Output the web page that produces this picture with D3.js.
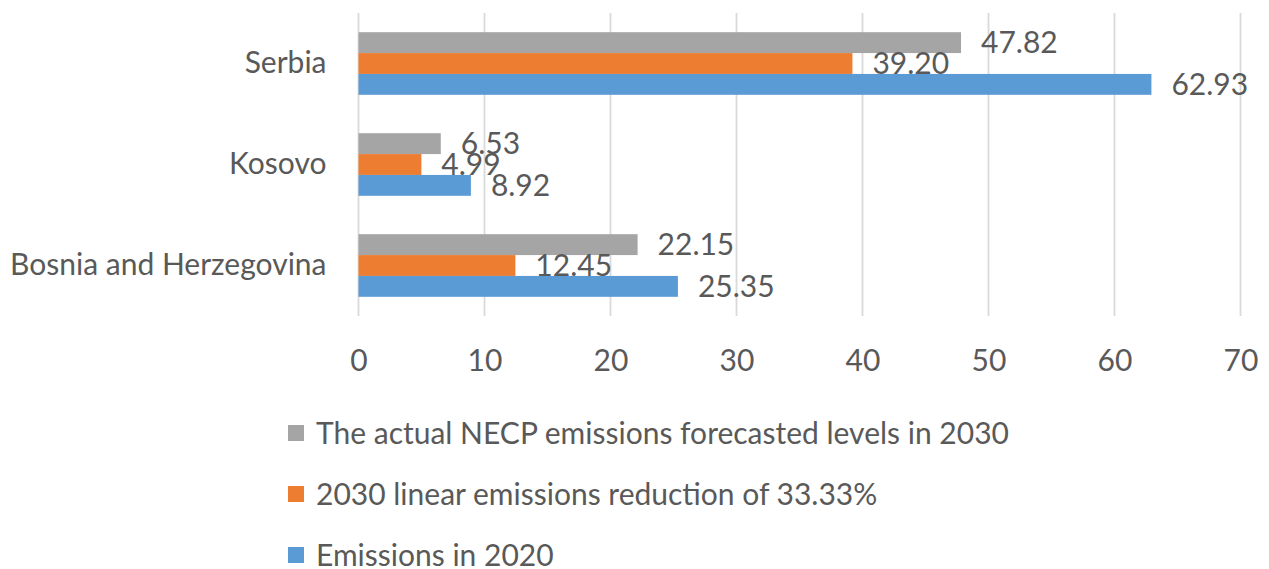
<!DOCTYPE html>
<html>
<head>
<meta charset="utf-8">
<script src="https://cdn.jsdelivr.net/npm/d3@7"></script>
<style>
  html, body { margin: 0; padding: 0; background: #fff; }
  svg { display: block; font-family: Lato, "Open Sans", sans-serif; }
</style>
</head>
<body>
<svg id="chart" width="1269" height="569"></svg>
<script>
// Countries shown on the vertical axis (top to bottom)
const categories = ["Serbia", "Kosovo", "Bosnia and Herzegovina"];

// Series names, in legend order
const seriesNames = [
  "The actual NECP emissions forecasted levels in 2030",
  "2030 linear emissions reduction of 33.33%",
  "Emissions in 2020"
];

// Values per country (same order as categories)
const actualNecp2030 = [47.82, 6.53, 22.15];
const linearReduction2030 = [39.20, 4.99, 12.45];
const emissions2020 = [62.93, 8.92, 25.35];

// X axis ticks
const xTicks = [0, 10, 20, 30, 40, 50, 60, 70];

const seriesValues = [actualNecp2030, linearReduction2030, emissions2020];
const seriesColors = ["#A5A5A5", "#ED7D31", "#5B9BD5"];

const svg = d3.select("#chart");
const textColor = "#595959";
const fontSize = 30;

const plot = { left: 358.5, right: 1240.5, top: 13, bottom: 316 };

const x = d3.scaleLinear()
  .domain([0, 70])
  .range([plot.left, plot.right]);

const y = d3.scaleBand()
  .domain(categories)
  .range([plot.top, plot.bottom])
  .paddingInner(0.38)
  .paddingOuter(0.19);

const ySeries = d3.scaleBand()
  .domain(seriesNames)
  .range([0, y.bandwidth()]);

// Vertical gridlines
svg.append("g")
  .selectAll("line")
  .data(xTicks)
  .join("line")
  .attr("x1", d => x(d))
  .attr("x2", d => x(d))
  .attr("y1", plot.top)
  .attr("y2", plot.bottom)
  .attr("stroke", "#D9D9D9")
  .attr("stroke-width", 1.8);

// X axis tick labels
const xAxis = d3.axisBottom(x)
  .tickValues(xTicks)
  .tickSize(0)
  .tickPadding(0)
  .tickFormat(d3.format("d"));

const xg = svg.append("g")
  .attr("transform", `translate(0, ${plot.bottom})`)
  .call(xAxis);
xg.select(".domain").remove();
xg.selectAll("text")
  .attr("y", 44)
  .attr("dy", "0.35em")
  .attr("fill", textColor)
  .style("font-size", fontSize + "px")
  .style("font-family", "Lato, sans-serif");

// Category labels
const yAxis = d3.axisLeft(y).tickSize(0).tickPadding(32);
const yg = svg.append("g")
  .attr("transform", `translate(${plot.left}, 0)`)
  .call(yAxis);
yg.select(".domain").remove();
yg.selectAll("text")
  .attr("fill", textColor)
  .attr("dy", "0.3em")
  .style("font-size", fontSize + "px")
  .style("font-family", "Lato, sans-serif");

// Bars grouped per country
const rows = [];
categories.forEach((c, ci) => {
  seriesNames.forEach((s, si) => {
    rows.push({ category: c, series: s, value: seriesValues[si][ci], color: seriesColors[si] });
  });
});

svg.append("g")
  .selectAll("rect")
  .data(rows)
  .join("rect")
  .attr("x", x(0))
  .attr("y", d => y(d.category) + ySeries(d.series))
  .attr("width", d => x(d.value) - x(0))
  .attr("height", ySeries.bandwidth())
  .attr("fill", d => d.color);

// Value labels at bar ends
svg.append("g")
  .selectAll("text")
  .data(rows)
  .join("text")
  .attr("x", d => x(d.value) + 20)
  .attr("y", d => y(d.category) + ySeries(d.series) + ySeries.bandwidth() / 2)
  .attr("dy", "0.36em")
  .attr("fill", textColor)
  .style("font-size", fontSize + "px")
  .text(d => d3.format(".2f")(d.value));

// Legend
const legend = svg.append("g")
  .selectAll("g")
  .data(seriesNames)
  .join("g")
  .attr("transform", (d, i) => `translate(288, ${433 + i * 61})`);

legend.append("rect")
  .attr("x", 0)
  .attr("y", -8)
  .attr("width", 16)
  .attr("height", 16)
  .attr("fill", (d, i) => seriesColors[i]);

legend.append("text")
  .attr("x", 28)
  .attr("y", 0)
  .attr("dy", "0.36em")
  .attr("fill", textColor)
  .style("font-size", fontSize + "px")
  .text(d => d);
</script>
</body>
</html>
